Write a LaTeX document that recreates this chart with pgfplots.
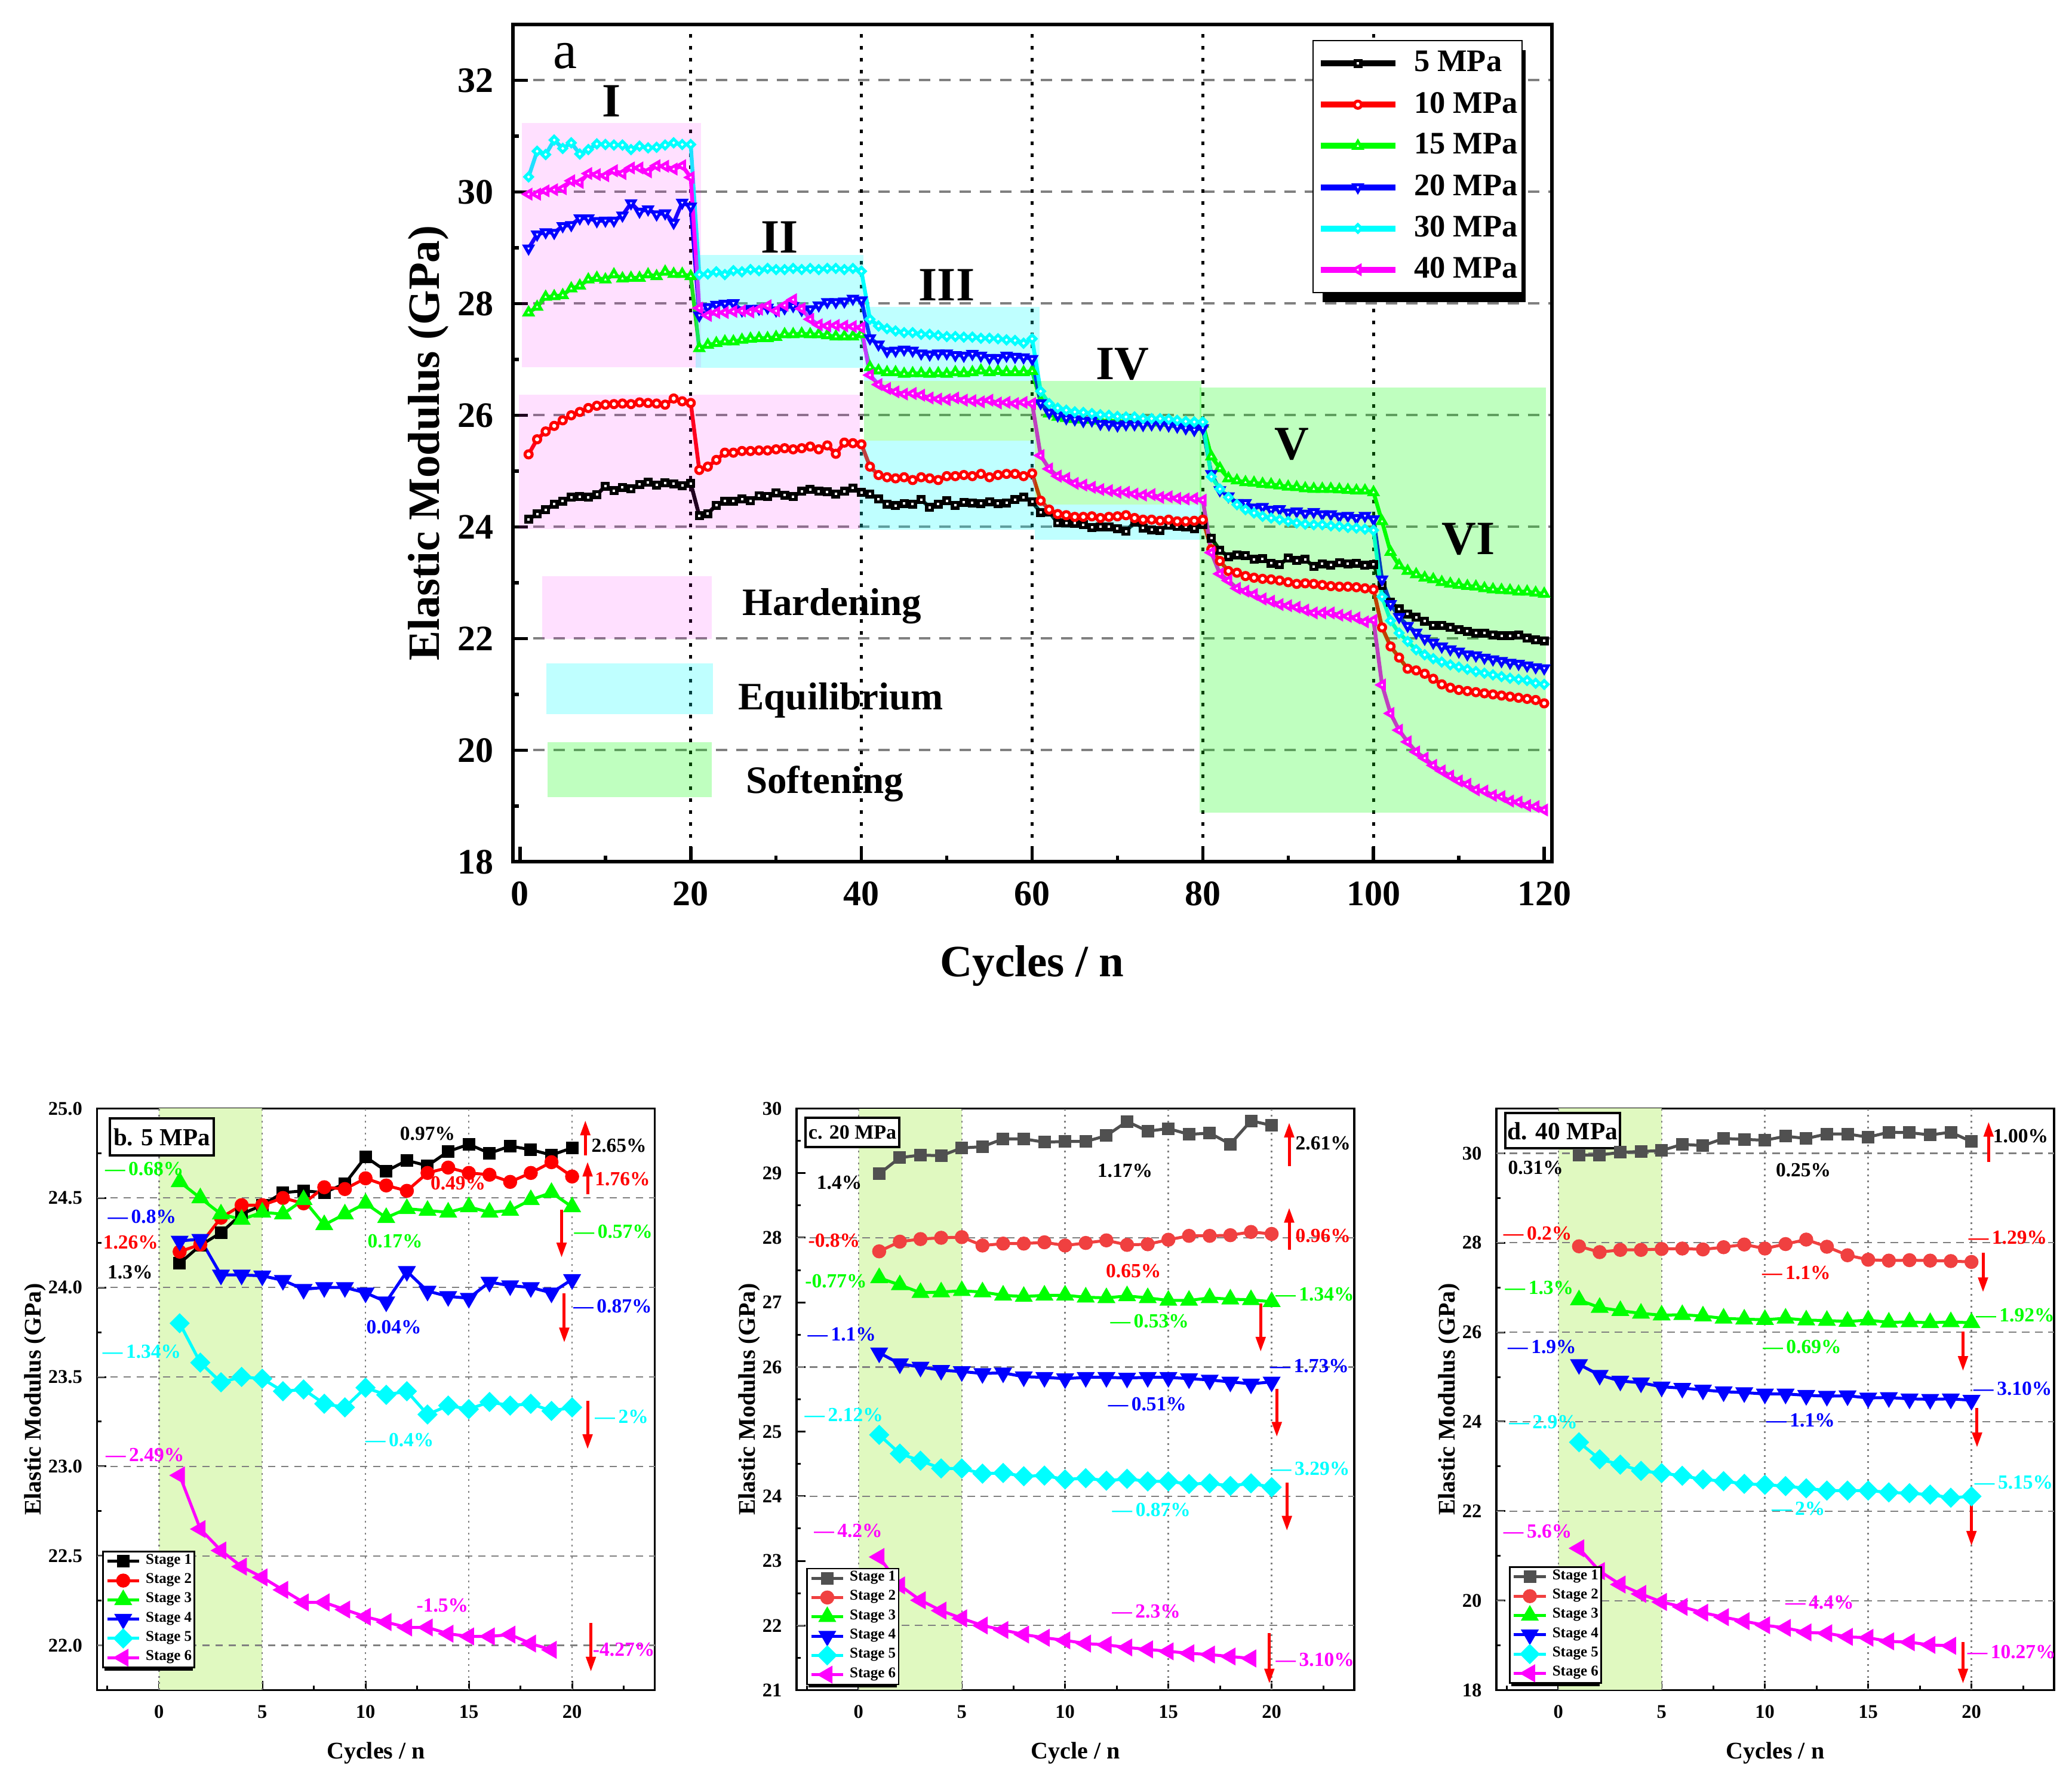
\documentclass[border=0pt]{standalone}
\usepackage{fontspec}
\setmainfont{Liberation Serif}
\usepackage{pgfplots}
\pgfplotsset{compat=1.18}
\usepackage{pgfplotstable}
\usetikzlibrary{arrows.meta}
\newcommand\fs[1]{\fontsize{#1}{#1}\selectfont\bfseries}
\definecolor{cgreen}{RGB}{0,255,0}
\definecolor{ccyan}{RGB}{0,255,255}
\definecolor{cmag}{RGB}{255,0,255}
\definecolor{cblue}{RGB}{0,0,255}
\definecolor{cgray}{RGB}{80,80,80}
\definecolor{cred}{RGB}{240,64,64}
\definecolor{shadeg}{RGB}{224,249,192}

\pgfplotstableread{
x s5 s10 s15 s20 s30 s40
1 24.135 25.30 27.84 28.99 30.27 29.96
2 24.235 25.57 27.94 29.24 30.73 29.96
3 24.306 25.71 28.12 29.28 30.67 30.02
4 24.41 25.81 28.13 29.27 30.93 30.04
5 24.46 25.91 28.15 29.39 30.78 30.06
6 24.53 26.00 28.27 29.41 30.88 30.20
7 24.54 26.06 28.32 29.53 30.68 30.17
8 24.53 26.13 28.43 29.53 30.76 30.33
9 24.58 26.17 28.46 29.48 30.86 30.31
10 24.73 26.19 28.43 29.49 30.85 30.29
11 24.65 26.20 28.52 29.49 30.84 30.38
12 24.71 26.21 28.45 29.58 30.84 30.33
13 24.68 26.20 28.46 29.80 30.76 30.43
14 24.76 26.23 28.46 29.65 30.82 30.43
15 24.80 26.22 28.52 29.69 30.79 30.36
16 24.75 26.21 28.49 29.60 30.80 30.47
17 24.79 26.19 28.57 29.62 30.84 30.46
18 24.77 26.30 28.53 29.45 30.88 30.41
19 24.74 26.25 28.53 29.81 30.85 30.47
20 24.78 26.22 28.49 29.74 30.85 30.26
21 24.20 25.02 27.20 27.79 28.52 27.92
22 24.24 25.08 27.26 27.94 28.53 27.79
23 24.39 25.20 27.29 27.98 28.57 27.84
24 24.46 25.33 27.32 28.00 28.52 27.84
25 24.46 25.33 27.32 28.01 28.59 27.86
26 24.50 25.36 27.35 27.88 28.57 27.87
27 24.47 25.36 27.37 27.91 28.61 27.85
28 24.56 25.37 27.38 27.91 28.59 27.90
29 24.55 25.37 27.38 27.93 28.63 27.96
30 24.61 25.39 27.40 27.88 28.61 27.87
31 24.57 25.41 27.45 27.92 28.61 27.97
32 24.54 25.39 27.45 27.96 28.63 28.07
33 24.64 25.41 27.46 27.89 28.61 27.91
34 24.67 25.44 27.45 27.90 28.63 27.72
35 24.64 25.39 27.45 27.97 28.61 27.62
36 24.63 25.46 27.43 28.03 28.63 27.60
37 24.59 25.31 27.41 28.03 28.63 27.61
38 24.64 25.51 27.41 28.04 28.61 27.60
39 24.70 25.50 27.41 28.09 28.63 27.59
40 24.62 25.48 27.45 28.06 28.58 27.57
41 24.59 25.08 26.86 27.38 27.72 26.72
42 24.50 24.93 26.80 27.27 27.60 26.55
43 24.41 24.89 26.77 27.15 27.55 26.48
44 24.38 24.87 26.77 27.16 27.51 26.42
45 24.42 24.89 26.74 27.18 27.48 26.38
46 24.41 24.84 26.75 27.16 27.48 26.39
47 24.49 24.89 26.75 27.11 27.45 26.36
48 24.35 24.87 26.74 27.09 27.45 26.31
49 24.41 24.84 26.75 27.11 27.43 26.29
50 24.47 24.91 26.74 27.11 27.41 26.28
51 24.39 24.91 26.77 27.08 27.41 26.31
52 24.44 24.93 26.75 27.07 27.40 26.27
53 24.43 24.91 26.77 27.10 27.40 26.26
54 24.42 24.95 26.80 27.07 27.38 26.24
55 24.45 24.89 26.77 27.03 27.38 26.27
56 24.42 24.93 26.79 27.03 27.37 26.22
57 24.43 24.95 26.77 27.07 27.35 26.23
58 24.49 24.95 26.77 27.05 27.34 26.21
59 24.53 24.91 26.77 27.04 27.29 26.23
60 24.45 24.96 26.79 27.01 27.37 26.21
61 24.26 24.47 26.25 26.22 26.43 25.28
62 24.27 24.31 26.03 26.05 26.21 25.04
63 24.07 24.23 25.97 26.00 26.13 24.91
64 24.07 24.21 25.95 25.95 26.09 24.87
65 24.065 24.18 25.93 25.93 26.06 24.78
66 24.04 24.18 25.92 25.90 26.05 24.75
67 23.99 24.19 25.92 25.91 26.03 24.71
68 24.00 24.16 25.90 25.85 26.01 24.67
69 24.00 24.18 25.90 25.84 26.00 24.65
70 23.97 24.19 25.89 25.82 25.98 24.62
71 23.92 24.21 25.89 25.84 25.97 24.62
72 24.09 24.16 25.88 25.84 25.97 24.59
73 23.98 24.13 25.88 25.83 25.94 24.57
74 23.95 24.13 25.87 25.84 25.94 24.58
75 23.94 24.11 25.87 25.84 25.94 24.53
76 24.03 24.13 25.87 25.82 25.93 24.54
77 24.01 24.10 25.86 25.80 25.91 24.51
78 24.00 24.10 25.86 25.77 25.89 24.50
79 23.97 24.11 25.85 25.74 25.88 24.51
80 24.045 24.13 25.85 25.77 25.88 24.48
81 23.80 23.60 25.26 24.95 24.90 23.54
82 23.58 23.39 25.05 24.66 24.68 23.16
83 23.47 23.21 24.87 24.55 24.53 23.04
84 23.50 23.18 24.83 24.43 24.40 22.90
85 23.49 23.12 24.80 24.43 24.31 22.85
86 23.42 23.09 24.79 24.35 24.25 22.79
87 23.43 23.07 24.77 24.36 24.19 22.71
88 23.35 23.06 24.76 24.31 24.16 22.67
89 23.33 23.04 24.74 24.32 24.13 22.61
90 23.44 23.01 24.72 24.26 24.10 22.59
91 23.40 22.98 24.71 24.28 24.07 22.56
92 23.42 22.99 24.69 24.24 24.05 22.51
93 23.29 22.98 24.68 24.27 24.04 22.46
94 23.34 22.96 24.68 24.23 24.04 22.46
95 23.32 22.94 24.68 24.23 24.02 22.46
96 23.36 22.93 24.67 24.19 24.01 22.42
97 23.34 22.93 24.66 24.20 23.99 22.40
98 23.35 22.92 24.65 24.16 23.98 22.37
99 23.31 22.90 24.65 24.20 23.96 22.30
100 23.33 22.88 24.62 24.14 23.94 22.33
101 22.95 22.20 24.10 23.06 22.75 21.17
102 22.65 21.86 23.55 22.62 22.32 20.66
103 22.53 21.66 23.31 22.39 22.10 20.36
104 22.44 21.46 23.21 22.23 21.95 20.15
105 22.38 21.43 23.15 22.11 21.80 19.97
106 22.31 21.37 23.09 22.00 21.71 19.86
107 22.24 21.28 23.06 21.93 21.64 19.73
108 22.24 21.18 23.01 21.86 21.58 19.63
109 22.20 21.12 22.98 21.81 21.53 19.54
110 22.16 21.08 22.96 21.77 21.49 19.45
111 22.13 21.06 22.94 21.72 21.45 19.39
112 22.10 21.04 22.93 21.70 21.41 19.29
113 22.10 21.02 22.90 21.66 21.38 19.27
114 22.065 21.00 22.88 21.63 21.35 19.19
115 22.05 20.98 22.87 21.60 21.32 19.17
116 22.05 20.96 22.86 21.57 21.29 19.09
117 22.06 20.94 22.84 21.55 21.27 19.07
118 22.01 20.92 22.84 21.52 21.25 19.01
119 21.975 20.90 22.82 21.49 21.20 18.99
120 21.96 20.84 22.80 21.47 21.18 18.93
}\toptab

\pgfplotstableread{
n st1 st2 st3 st4 st5 st6
1 24.135 24.20 24.59 24.26 23.80 22.95
2 24.235 24.24 24.50 24.27 23.58 22.65
3 24.306 24.39 24.41 24.07 23.47 22.53
4 24.41 24.46 24.38 24.07 23.50 22.44
5 24.46 24.46 24.42 24.065 23.49 22.38
6 24.53 24.50 24.41 24.04 23.42 22.31
7 24.54 24.47 24.49 23.99 23.43 22.24
8 24.53 24.56 24.35 24.00 23.35 22.24
9 24.58 24.55 24.41 24.00 23.33 22.20
10 24.73 24.61 24.47 23.97 23.44 22.16
11 24.65 24.57 24.39 23.92 23.40 22.13
12 24.71 24.54 24.44 24.09 23.42 22.10
13 24.68 24.64 24.43 23.98 23.29 22.10
14 24.76 24.67 24.42 23.95 23.34 22.065
15 24.80 24.64 24.45 23.94 23.32 22.05
16 24.75 24.63 24.42 24.03 23.36 22.05
17 24.79 24.59 24.43 24.01 23.34 22.06
18 24.77 24.64 24.49 24.00 23.35 22.01
19 24.74 24.70 24.53 23.97 23.31 21.975
20 24.78 24.62 24.45 24.045 23.33 nan
}\tabb

\pgfplotstableread{
n st1 st2 st3 st4 st5 st6
1 28.99 27.79 27.38 26.22 24.95 23.06
2 29.24 27.94 27.27 26.05 24.66 22.62
3 29.28 27.98 27.15 26.00 24.55 22.39
4 29.27 28.00 27.16 25.95 24.43 22.23
5 29.39 28.01 27.18 25.93 24.43 22.11
6 29.41 27.88 27.16 25.90 24.35 22.00
7 29.53 27.91 27.11 25.91 24.36 21.93
8 29.53 27.91 27.09 25.85 24.31 21.86
9 29.48 27.93 27.11 25.84 24.32 21.81
10 29.49 27.88 27.11 25.82 24.26 21.77
11 29.49 27.92 27.08 25.84 24.28 21.72
12 29.58 27.96 27.07 25.84 24.24 21.70
13 29.80 27.89 27.10 25.83 24.27 21.66
14 29.65 27.90 27.07 25.84 24.23 21.63
15 29.69 27.97 27.03 25.84 24.23 21.60
16 29.60 28.03 27.03 25.82 24.19 21.57
17 29.62 28.03 27.07 25.80 24.20 21.55
18 29.45 28.04 27.05 25.77 24.16 21.52
19 29.81 28.09 27.04 25.74 24.20 21.49
20 29.74 28.06 27.01 25.77 24.14 nan
}\tabc

\pgfplotstableread{
n st1 st2 st3 st4 st5 st6
1 29.96 27.92 26.72 25.28 23.54 21.17
2 29.96 27.79 26.55 25.04 23.16 20.66
3 30.02 27.84 26.48 24.91 23.04 20.36
4 30.04 27.84 26.42 24.87 22.90 20.15
5 30.06 27.86 26.38 24.78 22.85 19.97
6 30.20 27.87 26.39 24.75 22.79 19.86
7 30.17 27.85 26.36 24.71 22.71 19.73
8 30.33 27.90 26.31 24.67 22.67 19.63
9 30.31 27.96 26.29 24.65 22.61 19.54
10 30.29 27.87 26.28 24.62 22.59 19.45
11 30.38 27.97 26.31 24.62 22.56 19.39
12 30.33 28.07 26.27 24.59 22.51 19.29
13 30.43 27.91 26.26 24.57 22.46 19.27
14 30.43 27.72 26.24 24.58 22.46 19.19
15 30.36 27.62 26.27 24.53 22.46 19.17
16 30.47 27.60 26.22 24.54 22.42 19.09
17 30.46 27.61 26.23 24.51 22.40 19.07
18 30.41 27.60 26.21 24.50 22.37 19.01
19 30.47 27.59 26.23 24.51 22.30 18.99
20 30.26 27.57 26.21 24.48 22.33 nan
}\tabd

\newcommand\ann[4]{\node[text=#1,font=\fs{6.7},inner sep=0pt] at (axis cs:#2,#3) {#4};}
\newcommand\arr[3]{\draw[red,line width=1pt,-{Triangle[length=5pt,width=3.2pt]}] (axis cs:#1,#2) -- (axis cs:#1,#3);}
\newcommand\hg[3]{\draw[gray,dash pattern=on 2.5pt off 1.9pt,line width=0.45pt] (axis cs:#2,#1) -- (axis cs:#3,#1);}
\newcommand\vg[3]{\draw[gray,dash pattern=on 0.6pt off 1.4pt,line width=0.5pt] (axis cs:#1,#2) -- (axis cs:#1,#3);}
\newcommand\legshadow[2]{\fill[black] ([xshift=0.8pt,yshift=-0.8pt]axis description cs:#1,#2) rectangle ([xshift=30.4pt,yshift=37.96pt]axis description cs:#1,#2);}

\pgfplotsset{
  st1/.style={#1,line width=1pt,mark=square*,mark size=1.6pt,mark options={solid,fill=#1}},
  st2/.style={#1,line width=1pt,mark=*,mark size=1.85pt,mark options={solid,fill=#1}},
  st3/.style={#1,line width=1pt,mark=triangle*,mark size=2.5pt,mark options={solid,fill=#1}},
  st4/.style={#1,line width=1pt,mark=triangle*,mark size=2.5pt,mark options={solid,fill=#1,rotate=180}},
  st5/.style={#1,line width=1pt,mark=square*,mark size=1.9pt,mark options={solid,fill=#1,rotate=45}},
  st6/.style={#1,line width=1pt,mark=triangle*,mark size=2.5pt,mark options={solid,fill=#1,rotate=90}},
  botax/.style={scale only axis, width=186.8pt, height=194.8pt, anchor=south west,
    xmin=-3, xmax=24, xtick={0,5,10,15,20}, minor xtick={-2.5,2.5,7.5,12.5,17.5,22.5},
    tick align=inside, tick pos=left, major tick length=3pt, minor tick length=1.4pt,
    tick style={black,line width=0.6pt}, axis line style={line width=0.7pt},
    tick label style={font=\fs{6.5}}, /pgf/number format/assume math mode=true,
    xticklabel style={yshift=-1.6pt}, yticklabel style={xshift=-1.4pt},
    label style={font=\fs{8}},
    xlabel style={at={(axis description cs:0.5,-0.118)},anchor=base},
    clip=false,
    legend cell align=left,
    legend style={draw=black,line width=0.5pt,fill=white,font=\fs{5},anchor=south west,
      inner xsep=0.9pt,inner ysep=0pt,column sep=1.7pt,row sep=0pt,
      nodes={inner sep=0pt,minimum height=6.46pt}},
    legend image code/.code={\draw[mark repeat=2,mark phase=2,##1] plot coordinates {(0pt,0pt) (5.35pt,0pt) (10.7pt,0pt)};},
  },
  tp/.style={line width=1.3pt},
}

\begin{document}
\begin{tikzpicture}
\useasboundingbox (0,0) rectangle (694pt,594.2pt);

%================ TOP CHART =================
\begin{axis}[at={(171.7pt,305.5pt)}, anchor=south west, scale only axis, width=348pt, height=280.5pt,
  xmin=-0.87, xmax=120.87, ymin=18, ymax=33,
  xtick={0,20,...,120}, minor x tick num=1, ytick={18,20,...,32}, minor y tick num=1,
  tick align=inside, tick pos=left, major tick length=5pt, minor tick length=2.1pt,
  tick style={black,line width=1.1pt}, axis line style={line width=1.2pt},
  ymajorgrids=true, major y grid style={gray,dash pattern=on 3.8pt off 3pt,line width=0.8pt},
  tick label style={font=\fs{12}}, /pgf/number format/assume math mode=true,
  xticklabel style={yshift=-3.1pt}, yticklabel style={xshift=-2.9pt},
  label style={font=\fs{15}},
  xlabel={Cycles / n}, ylabel={Elastic Modulus (GPa)},
  xlabel style={at={(axis description cs:0.5,-0.1366)},anchor=base},
  ylabel style={at={(axis description cs:-0.081,0.5)},anchor=center},
  clip=false,
  legend cell align=left,
  legend style={at={(0.7697,0.9815)},anchor=north west,draw=black,line width=0.5pt,fill=white,
    font=\fs{10.5},inner xsep=1.5pt,inner ysep=0.7pt,column sep=5.3pt,row sep=0pt,
    nodes={inner sep=0pt,minimum height=13.82pt}},
  legend image code/.code={\draw[mark repeat=2,mark phase=2,#1] plot coordinates {(0pt,0pt) (12.5pt,0pt) (25pt,0pt)};},
  legend image post style={line width=2pt},
]
\draw[black,line width=1pt,dash pattern=on 1.3pt off 2.7pt] (axis cs:20,18) -- (axis cs:20,33);
\draw[black,line width=1pt,dash pattern=on 1.3pt off 2.7pt] (axis cs:40,18) -- (axis cs:40,33);
\draw[black,line width=1pt,dash pattern=on 1.3pt off 2.7pt] (axis cs:60,18) -- (axis cs:60,33);
\draw[black,line width=1pt,dash pattern=on 1.3pt off 2.7pt] (axis cs:80,18) -- (axis cs:80,33);
\draw[black,line width=1pt,dash pattern=on 1.3pt off 2.7pt] (axis cs:100,18) -- (axis cs:100,33);

\addplot[black,tp,mark=square*,mark size=0.95pt,mark options={solid,fill=white,line width=1.1pt}] table[x=x,y=s5] {\toptab};
\addlegendentry{5 MPa}
\addplot[red,tp,mark=*,mark size=1.2pt,mark options={solid,fill=white,line width=1pt}] table[x=x,y=s10] {\toptab};
\addlegendentry{10 MPa}
\addplot[cgreen,tp,mark=triangle*,mark size=1.55pt,mark options={solid,fill=white,line width=1pt}] table[x=x,y=s15] {\toptab};
\addlegendentry{15 MPa}
\addplot[cblue,tp,mark=triangle*,mark size=1.55pt,mark options={solid,fill=white,line width=1pt,rotate=180}] table[x=x,y=s20] {\toptab};
\addlegendentry{20 MPa}
\addplot[ccyan,tp,mark=square*,mark size=0.9pt,mark options={solid,fill=white,line width=1pt,rotate=45}] table[x=x,y=s30] {\toptab};
\addlegendentry{30 MPa}
\addplot[cmag,tp,mark=triangle*,mark size=1.55pt,mark options={solid,fill=white,line width=1pt,rotate=90}] table[x=x,y=s40] {\toptab};
\addlegendentry{40 MPa}

\fill[cmag,opacity=0.12] (axis cs:0.22,26.86) rectangle (axis cs:21.2,31.24);
\fill[cmag,opacity=0.12] (axis cs:-0.13,23.96) rectangle (axis cs:39.8,26.37);
\fill[ccyan,opacity=0.25] (axis cs:20.6,26.85) rectangle (axis cs:40.2,28.87);
\fill[ccyan,opacity=0.25] (axis cs:40.3,26.62) rectangle (axis cs:60.9,27.94);
\fill[ccyan,opacity=0.25] (axis cs:39.8,23.95) rectangle (axis cs:60.3,25.54);
\fill[ccyan,opacity=0.25] (axis cs:60.3,23.77) rectangle (axis cs:79.8,24.40);
\fill[cgreen,opacity=0.25] (axis cs:40.3,25.54) rectangle (axis cs:79.8,26.62);
\fill[cgreen,opacity=0.25] (axis cs:60.3,24.40) rectangle (axis cs:79.8,25.54);
\fill[cgreen,opacity=0.25] (axis cs:79.6,18.88) rectangle (axis cs:120.2,26.5);
\fill[cmag,opacity=0.12] (axis cs:2.56,21.99) rectangle (axis cs:22.45,23.12);
\fill[ccyan,opacity=0.25] (axis cs:3.05,20.65) rectangle (axis cs:22.59,21.56);
\fill[cgreen,opacity=0.25] (axis cs:3.24,19.16) rectangle (axis cs:22.45,20.14);
\node[font=\fs{13},anchor=base west,inner sep=0pt] at (axis cs:26.0,22.42) {Hardening};
\node[font=\fs{13},anchor=base west,inner sep=0pt] at (axis cs:25.5,20.73) {Equilibrium};
\node[font=\fs{13},anchor=base west,inner sep=0pt] at (axis cs:26.4,19.23) {Softening};

\node[font=\fs{16},inner sep=0pt] at (axis cs:10.7,31.63) {I};
\node[font=\fs{16},inner sep=0pt] at (axis cs:30.4,29.19) {II};
\node[font=\fs{16},inner sep=0pt] at (axis cs:50.0,28.33) {III};
\node[font=\fs{16},inner sep=0pt] at (axis cs:70.6,26.92) {IV};
\node[font=\fs{16},inner sep=0pt] at (axis cs:90.4,25.48) {V};
\node[font=\fs{16},inner sep=0pt] at (axis cs:111.1,23.78) {VI};
\node[font=\fontsize{18}{18}\selectfont,inner sep=0pt] at (axis cs:5.3,32.43) {a};
\fill[black] ([xshift=3.5pt,yshift=-3.5pt]axis description cs:0.7697,0.9815) rectangle ([xshift=71.5pt,yshift=-87.8pt]axis description cs:0.7697,0.9815);
\end{axis}

%================ b. 5 MPa =================
\begin{axis}[botax, at={(32.5pt,28.1pt)},
  ymin=21.75, ymax=25, ytick={22,22.5,...,25}, minor y tick num=1,
  yticklabel style={/pgf/number format/fixed,/pgf/number format/fixed zerofill,/pgf/number format/precision=1},
  xlabel={Cycles / n}, ylabel={Elastic Modulus (GPa)},
  ylabel style={at={(axis description cs:-0.111,0.5)},anchor=center},
  legend style={at={(0.0095,0.0378)}},
]
\fill[shadeg] (axis cs:0,21.75) rectangle (axis cs:5,25);
\hg{22}{-3}{24}\hg{22.5}{-3}{24}\hg{23}{-3}{24}\hg{23.5}{-3}{24}\hg{24}{-3}{24}\hg{24.5}{-3}{24}
\vg{0}{21.75}{25}\vg{5}{21.75}{25}\vg{10}{21.75}{25}\vg{15}{21.75}{25}\vg{20}{21.75}{25}
\addplot[st1=black] table[x=n,y=st1] {\tabb}; \addlegendentry{Stage 1}
\addplot[st2=red] table[x=n,y=st2] {\tabb}; \addlegendentry{Stage 2}
\addplot[st3=cgreen] table[x=n,y=st3] {\tabb}; \addlegendentry{Stage 3}
\addplot[st4=cblue] table[x=n,y=st4] {\tabb}; \addlegendentry{Stage 4}
\addplot[st5=ccyan] table[x=n,y=st5] {\tabb}; \addlegendentry{Stage 5}
\addplot[st6=cmag] table[x=n,y=st6] {\tabb}; \addlegendentry{Stage 6}
\node[draw,line width=0.8pt,fill=white,anchor=north west,minimum width=34.7pt,minimum height=12.3pt,inner sep=0pt,font=\fs{8.2}] at (axis cs:-2.43,24.95) {b. 5 MPa};
\ann{black}{13.0}{24.861}{0.97\%}
\ann{black}{22.27}{24.793}{2.65\%}
\ann{cgreen}{-0.71}{24.661}{---\,0.68\%}
\ann{red}{14.48}{24.581}{0.49\%}
\ann{red}{22.44}{24.605}{1.76\%}
\ann{cblue}{-0.82}{24.396}{---\,0.8\%}
\ann{red}{-1.37}{24.252}{1.26\%}
\ann{cgreen}{11.43}{24.26}{0.17\%}
\ann{cgreen}{22.0}{24.313}{---\,0.57\%}
\ann{black}{-1.40}{24.087}{1.3\%}
\ann{cblue}{21.96}{23.894}{---\,0.87\%}
\ann{cblue}{11.37}{23.777}{0.04\%}
\ann{ccyan}{-0.83}{23.641}{---\,1.34\%}
\ann{ccyan}{22.4}{23.278}{---\,2\%}
\ann{ccyan}{11.65}{23.149}{---\,0.4\%}
\ann{cmag}{-0.68}{23.064}{---\,2.49\%}
\ann{cmag}{13.72}{22.224}{-1.5\%}
\ann{cmag}{22.5}{21.975}{-4.27\%}
\arr{20.64}{24.739}{24.934}
\arr{20.75}{24.520}{24.703}
\arr{19.49}{24.435}{24.167}
\arr{19.62}{23.967}{23.692}
\arr{20.75}{23.368}{23.096}
\arr{20.91}{22.126}{21.853}
\legshadow{0.0095}{0.0378}
\end{axis}

%================ c. 20 MPa =================
\begin{axis}[botax, at={(266.8pt,28.1pt)},
  ymin=21, ymax=30, ytick={21,...,30}, minor y tick num=1,
  xlabel={Cycle / n}, ylabel={Elastic Modulus (GPa)},
  ylabel style={at={(axis description cs:-0.0846,0.5)},anchor=center},
  legend style={at={(0.0176,0.0087)}},
]
\fill[shadeg] (axis cs:0,21) rectangle (axis cs:5,30);
\hg{22}{-3}{24}\hg{24}{-3}{24}\hg{26}{-3}{24}\hg{28}{-3}{24}
\vg{0}{21}{30}\vg{5}{21}{30}\vg{10}{21}{30}\vg{15}{21}{30}\vg{20}{21}{30}
\addplot[st1=cgray] table[x=n,y=st1] {\tabc}; \addlegendentry{Stage 1}
\addplot[st2=cred] table[x=n,y=st2] {\tabc}; \addlegendentry{Stage 2}
\addplot[st3=cgreen] table[x=n,y=st3] {\tabc}; \addlegendentry{Stage 3}
\addplot[st4=cblue] table[x=n,y=st4] {\tabc}; \addlegendentry{Stage 4}
\addplot[st5=ccyan] table[x=n,y=st5] {\tabc}; \addlegendentry{Stage 5}
\addplot[st6=cmag] table[x=n,y=st6] {\tabc}; \addlegendentry{Stage 6}
\node[draw,line width=0.8pt,fill=white,anchor=north west,minimum width=31.5pt,minimum height=9.8pt,inner sep=0pt,font=\fs{6.8}] at (axis cs:-2.63,29.875) {c. 20 MPa};
\ann{black}{-0.93}{28.851}{1.4\%}
\ann{black}{12.9}{29.04}{1.17\%}
\ann{black}{22.49}{29.466}{2.61\%}
\ann{red}{-1.18}{27.96}{-0.8\%}
\ann{red}{22.49}{28.027}{0.96\%}
\ann{red}{13.31}{27.486}{0.65\%}
\ann{cgreen}{-1.09}{27.331}{-0.77\%}
\ann{cgreen}{22.09}{27.128}{---\,1.34\%}
\ann{cgreen}{14.09}{26.709}{---\,0.53\%}
\ann{cblue}{-0.81}{26.507}{---\,1.1\%}
\ann{cblue}{21.84}{26.02}{---\,1.73\%}
\ann{cblue}{13.98}{25.426}{---\,0.51\%}
\ann{ccyan}{-0.71}{25.257}{---\,2.12\%}
\ann{ccyan}{21.88}{24.426}{---\,3.29\%}
\ann{ccyan}{14.18}{23.79}{---\,0.87\%}
\ann{cmag}{-0.5}{23.466}{---\,4.2\%}
\ann{cmag}{13.93}{22.216}{---\,2.3\%}
\ann{cmag}{22.1}{21.473}{---\,3.10\%}
\arr{20.85}{29.108}{29.784}
\arr{20.85}{27.811}{28.466}
\arr{19.47}{26.98}{26.236}
\arr{20.25}{25.662}{24.919}
\arr{20.74}{24.209}{23.466}
\arr{19.89}{21.878}{21.101}
\legshadow{0.0176}{0.0087}
\end{axis}

%================ d. 40 MPa =================
\begin{axis}[botax, at={(501.2pt,28.1pt)},
  ymin=18, ymax=31, ytick={18,20,...,30}, minor y tick num=1,
  xlabel={Cycles / n}, ylabel={Elastic Modulus (GPa)},
  ylabel style={at={(axis description cs:-0.0846,0.5)},anchor=center},
  legend style={at={(0.0225,0.011)}},
]
\fill[shadeg] (axis cs:0,18) rectangle (axis cs:5,31);
\hg{20}{-3}{24}\hg{22}{-3}{24}\hg{24}{-3}{24}\hg{26}{-3}{24}\hg{28}{-3}{24}\hg{30}{-3}{24}
\vg{0}{18}{31}\vg{5}{18}{31}\vg{10}{18}{31}\vg{15}{18}{31}\vg{20}{18}{31}
\addplot[st1=cgray] table[x=n,y=st1] {\tabd}; \addlegendentry{Stage 1}
\addplot[st2=cred] table[x=n,y=st2] {\tabd}; \addlegendentry{Stage 2}
\addplot[st3=cgreen] table[x=n,y=st3] {\tabd}; \addlegendentry{Stage 3}
\addplot[st4=cblue] table[x=n,y=st4] {\tabd}; \addlegendentry{Stage 4}
\addplot[st5=ccyan] table[x=n,y=st5] {\tabd}; \addlegendentry{Stage 5}
\addplot[st6=cmag] table[x=n,y=st6] {\tabd}; \addlegendentry{Stage 6}
\node[draw,line width=0.8pt,fill=white,anchor=north west,minimum width=38.3pt,minimum height=11.8pt,inner sep=0pt,font=\fs{8.3}] at (axis cs:-2.62,30.92) {d. 40 MPa};
\ann{black}{-1.1}{29.678}{0.31\%}
\ann{black}{11.86}{29.629}{0.25\%}
\ann{black}{22.38}{30.381}{1.00\%}
\ann{red}{-1.0}{28.212}{---\,0.2\%}
\ann{red}{21.76}{28.114}{---\,1.29\%}
\ann{red}{11.52}{27.332}{---\,1.1\%}
\ann{cgreen}{-0.92}{26.99}{---\,1.3\%}
\ann{cgreen}{22.12}{26.374}{---\,1.92\%}
\ann{cgreen}{11.8}{25.671}{---\,0.69\%}
\ann{cblue}{-0.79}{25.671}{---\,1.9\%}
\ann{cblue}{22.0}{24.743}{---\,3.10\%}
\ann{cblue}{11.73}{24.029}{---\,1.1\%}
\ann{ccyan}{-0.73}{23.99}{---\,2.9\%}
\ann{ccyan}{22.05}{22.641}{---\,5.15\%}
\ann{ccyan}{11.62}{22.055}{---\,2\%}
\ann{cmag}{-1.0}{21.547}{---\,5.6\%}
\ann{cmag}{12.65}{19.954}{---\,4.4\%}
\ann{cmag}{21.94}{18.85}{---\,10.27\%}
\arr{20.83}{29.805}{30.704}
\arr{20.56}{27.772}{26.892}
\arr{19.59}{26.013}{25.133}
\arr{20.27}{24.303}{23.423}
\arr{20.0}{22.153}{21.224}
\arr{19.59}{19.075}{18.146}
\legshadow{0.0225}{0.011}
\end{axis}
\end{tikzpicture}
\end{document}
